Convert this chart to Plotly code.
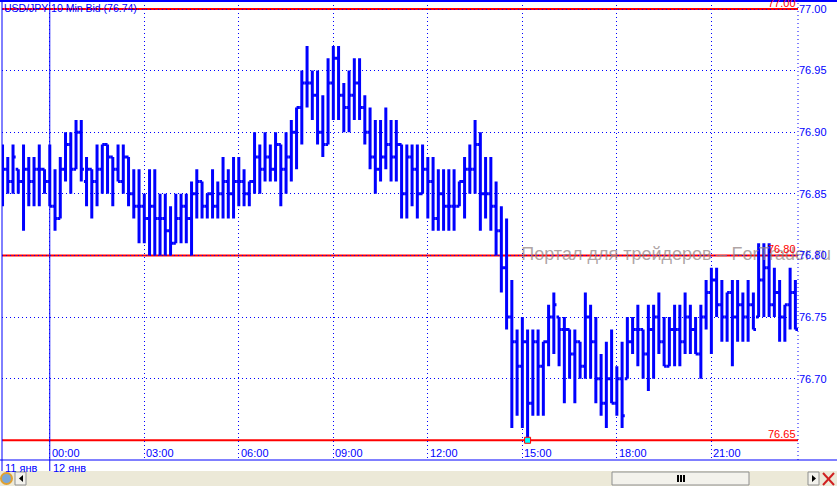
import pandas as pd
import plotly.graph_objects as go

# 10-minute USD/JPY bid bars, 11 Jan 22:30 -> 12 Jan 23:40
bar_times = pd.date_range('2012-01-11 22:30', periods=152, freq='10min')

opens = [
    76.86, 76.87, 76.86, 76.87, 76.86, 76.87, 76.86, 76.87, 76.87, 76.86,
    76.84, 76.83, 76.87, 76.89, 76.87, 76.90, 76.86, 76.87, 76.86, 76.87,
    76.89, 76.88, 76.87, 76.86, 76.88, 76.85, 76.84, 76.84, 76.83, 76.84,
    76.83, 76.83, 76.82, 76.81, 76.83, 76.84, 76.83, 76.85, 76.86, 76.84,
    76.85, 76.84, 76.85, 76.86, 76.85, 76.86, 76.86, 76.85, 76.86, 76.88,
    76.87, 76.88, 76.87, 76.89, 76.87, 76.88, 76.90, 76.92, 76.94, 76.94,
    76.93, 76.90, 76.89, 76.94, 76.96, 76.93, 76.92, 76.93, 76.94, 76.92,
    76.90, 76.88, 76.87, 76.88, 76.89, 76.88, 76.89, 76.85, 76.88, 76.87,
    76.85, 76.87, 76.86, 76.83, 76.85, 76.84, 76.84, 76.84, 76.86, 76.87,
    76.87, 76.89, 76.85, 76.85, 76.84, 76.82, 76.79, 76.75, 76.73, 76.71,
    76.73, 76.68, 76.73, 76.71, 76.73, 76.75, 76.75, 76.74, 76.74, 76.72,
    76.73, 76.71, 76.75, 76.73, 76.70, 76.68, 76.70, 76.68, 76.70, 76.70,
    76.73, 76.74, 76.74, 76.72, 76.74, 76.75, 76.73, 76.71, 76.74, 76.74,
    76.73, 76.75, 76.74, 76.72, 76.75, 76.77, 76.78, 76.76, 76.75, 76.77,
    76.75, 76.76, 76.75, 76.76, 76.75, 76.78, 76.79, 76.76, 76.77, 76.75,
    76.76, 76.77,
]
highs = [
    76.89, 76.88, 76.89, 76.87, 76.89, 76.88, 76.88, 76.89, 76.87, 76.89,
    76.87, 76.88, 76.90, 76.90, 76.91, 76.91, 76.88, 76.87, 76.89, 76.89,
    76.89, 76.88, 76.89, 76.89, 76.88, 76.87, 76.87, 76.85, 76.87, 76.87,
    76.85, 76.85, 76.84, 76.85, 76.85, 76.85, 76.86, 76.87, 76.86, 76.85,
    76.87, 76.86, 76.88, 76.87, 76.88, 76.88, 76.87, 76.86, 76.90, 76.89,
    76.90, 76.89, 76.90, 76.89, 76.90, 76.91, 76.92, 76.95, 76.97, 76.95,
    76.95, 76.93, 76.96, 76.97, 76.97, 76.94, 76.95, 76.96, 76.96, 76.93,
    76.92, 76.91, 76.91, 76.92, 76.91, 76.91, 76.89, 76.89, 76.89, 76.89,
    76.89, 76.88, 76.88, 76.87, 76.87, 76.87, 76.87, 76.86, 76.88, 76.89,
    76.91, 76.90, 76.88, 76.88, 76.86, 76.84, 76.83, 76.78, 76.74, 76.75,
    76.74, 76.74, 76.74, 76.73, 76.76, 76.77, 76.75, 76.75, 76.74, 76.74,
    76.73, 76.77, 76.76, 76.75, 76.72, 76.73, 76.74, 76.71, 76.73, 76.75,
    76.75, 76.76, 76.74, 76.76, 76.76, 76.77, 76.75, 76.75, 76.76, 76.76,
    76.77, 76.76, 76.75, 76.76, 76.78, 76.79, 76.79, 76.78, 76.77, 76.78,
    76.78, 76.77, 76.78, 76.77, 76.81, 76.81, 76.81, 76.79, 76.78, 76.76,
    76.79, 76.78,
]
lows = [
    76.84, 76.85, 76.85, 76.85, 76.82, 76.84, 76.84, 76.84, 76.85, 76.84,
    76.82, 76.83, 76.86, 76.85, 76.87, 76.86, 76.84, 76.83, 76.84, 76.85,
    76.85, 76.84, 76.86, 76.85, 76.84, 76.83, 76.81, 76.81, 76.80, 76.80,
    76.80, 76.80, 76.80, 76.81, 76.81, 76.81, 76.80, 76.83, 76.83, 76.83,
    76.83, 76.83, 76.83, 76.83, 76.83, 76.84, 76.84, 76.84, 76.85, 76.85,
    76.86, 76.86, 76.86, 76.84, 76.85, 76.86, 76.87, 76.89, 76.92, 76.91,
    76.89, 76.88, 76.89, 76.91, 76.91, 76.90, 76.90, 76.91, 76.91, 76.89,
    76.87, 76.85, 76.86, 76.87, 76.86, 76.86, 76.83, 76.83, 76.84, 76.83,
    76.85, 76.83, 76.82, 76.82, 76.82, 76.82, 76.82, 76.84, 76.83, 76.85,
    76.85, 76.82, 76.83, 76.82, 76.80, 76.77, 76.74, 76.66, 76.67, 76.66,
    76.65, 76.67, 76.67, 76.67, 76.71, 76.72, 76.71, 76.68, 76.70, 76.68,
    76.70, 76.70, 76.70, 76.68, 76.67, 76.66, 76.68, 76.67, 76.66, 76.70,
    76.72, 76.71, 76.70, 76.69, 76.70, 76.72, 76.71, 76.71, 76.71, 76.71,
    76.72, 76.72, 76.72, 76.70, 76.74, 76.72, 76.75, 76.73, 76.73, 76.71,
    76.73, 76.73, 76.73, 76.74, 76.75, 76.75, 76.75, 76.75, 76.73, 76.73,
    76.74, 76.74,
]
closes = [
    76.87, 76.86, 76.88, 76.86, 76.87, 76.86, 76.87, 76.87, 76.86, 76.84,
    76.83, 76.87, 76.89, 76.87, 76.90, 76.87, 76.87, 76.86, 76.87, 76.89,
    76.88, 76.87, 76.86, 76.88, 76.85, 76.84, 76.84, 76.83, 76.84, 76.83,
    76.83, 76.82, 76.81, 76.83, 76.84, 76.83, 76.85, 76.86, 76.84, 76.85,
    76.84, 76.85, 76.86, 76.85, 76.86, 76.86, 76.85, 76.86, 76.88, 76.87,
    76.88, 76.87, 76.89, 76.87, 76.88, 76.90, 76.92, 76.94, 76.94, 76.93,
    76.90, 76.89, 76.94, 76.96, 76.93, 76.92, 76.93, 76.94, 76.92, 76.90,
    76.88, 76.87, 76.88, 76.89, 76.88, 76.89, 76.85, 76.88, 76.87, 76.85,
    76.87, 76.86, 76.83, 76.85, 76.84, 76.84, 76.84, 76.86, 76.87, 76.87,
    76.89, 76.85, 76.85, 76.84, 76.82, 76.79, 76.75, 76.73, 76.71, 76.73,
    76.68, 76.73, 76.71, 76.73, 76.75, 76.76, 76.74, 76.74, 76.72, 76.73,
    76.71, 76.75, 76.73, 76.70, 76.68, 76.70, 76.68, 76.70, 76.67, 76.73,
    76.74, 76.74, 76.72, 76.74, 76.75, 76.73, 76.71, 76.74, 76.74, 76.73,
    76.75, 76.74, 76.72, 76.75, 76.77, 76.78, 76.76, 76.75, 76.77, 76.75,
    76.76, 76.75, 76.76, 76.74, 76.78, 76.79, 76.76, 76.77, 76.75, 76.76,
    76.77, 76.74,
]

price_ticks = [76.70, 76.75, 76.80, 76.85, 76.90, 76.95, 77.00]
time_ticks = pd.date_range('2012-01-12 00:00', periods=8, freq='3h')
time_labels = ['00:00', '03:00', '06:00', '09:00', '12:00', '15:00', '18:00', '21:00']
level_lines = [77.00, 76.80, 76.65]
day_labels = ['11 янв', '12 янв']
title_text = 'USD/JPY 10 Min Bid (76.74)'
watermark = 'Портал для трейдеров – ForTrader.ru'
low_time = pd.Timestamp('2012-01-12 15:10')
low_price = 76.65

BLUE = '#0000ff'
RED = '#ff0000'
FONT = 'Liberation Sans'
DOTS = '1px,3px'
W, H = 837, 487
ML, MR, MT, MB = 2, 39, 1, 27
PW, PH = W - ML - MR, H - MT - MB


def px_x(px):
    return (px - ML) / PW


def px_y(py):
    return (H - MB - py) / PH


step = pd.Timedelta('10min')
x_range = [bar_times[0] - step * 0.1, bar_times[0] + step * 151.5]

fig = go.Figure()

# watermark sits over the level lines but under the bars
fig.add_trace(go.Scatter(
    x=[pd.Timestamp('2012-01-12 14:58')], y=[76.80],
    mode='text', text=[watermark], textposition='middle right',
    textfont=dict(family=FONT, size=18, color='rgba(150,135,135,0.75)'),
    cliponaxis=False, hoverinfo='skip', showlegend=False
))

fig.add_trace(go.Ohlc(
    x=bar_times, open=opens, high=highs, low=lows, close=closes,
    line=dict(width=3),
    increasing=dict(line=dict(color=BLUE)),
    decreasing=dict(line=dict(color=BLUE)),
    tickwidth=0.5,
    hoverinfo='skip',
    showlegend=False
))

fig.add_trace(go.Scatter(
    x=[low_time], y=[low_price], mode='markers',
    marker=dict(symbol='square', size=6, color='#00ffff', line=dict(color=RED, width=1)),
    hoverinfo='skip', showlegend=False
))

shapes = []
# level lines
for lvl in level_lines:
    shapes.append(dict(type='line', xref='paper', yref='y', x0=0, x1=1, y0=lvl, y1=lvl,
                       line=dict(color=RED, width=2), layer='below'))
# frame lines
shapes.append(dict(type='line', xref='paper', yref='paper', x0=px_x(0), x1=px_x(W), y0=1, y1=1,
                   line=dict(color=BLUE, width=2)))
shapes.append(dict(type='line', xref='paper', yref='paper', x0=px_x(0), x1=px_x(W), y0=0, y1=0,
                   line=dict(color=BLUE, width=1)))
shapes.append(dict(type='line', xref='paper', yref='paper', x0=0, x1=0, y0=px_y(471), y1=1,
                   line=dict(color=BLUE, width=1)))
shapes.append(dict(type='line', xref='x', yref='paper', x0=time_ticks[0], x1=time_ticks[0],
                   y0=px_y(471), y1=1, line=dict(color=BLUE, width=1)))
shapes.append(dict(type='line', xref='paper', yref='paper', x0=1, x1=1, y0=0, y1=1,
                   line=dict(color=BLUE, width=1, dash=DOTS)))
# scrollbar
shapes.append(dict(type='rect', xref='paper', yref='paper', x0=px_x(0), x1=px_x(W),
                   y0=px_y(486), y1=px_y(471), fillcolor='#ece9d8', line=dict(width=0)))
shapes.append(dict(type='rect', xref='paper', yref='paper', x0=px_x(612), x1=px_x(749),
                   y0=px_y(485), y1=px_y(472), fillcolor='#f3f2ec', line=dict(color='#8e8f8f', width=1)))
for gx in (677, 680, 683):
    shapes.append(dict(type='rect', xref='paper', yref='paper', x0=px_x(gx), x1=px_x(gx + 2),
                       y0=px_y(482), y1=px_y(475), fillcolor='black', line=dict(width=0)))
for bx0, bx1 in ((15, 26), (808, 819)):
    shapes.append(dict(type='rect', xref='paper', yref='paper', x0=px_x(bx0), x1=px_x(bx1),
                       y0=px_y(485), y1=px_y(472), fillcolor='#f3f2ec', line=dict(color='#8e8f8f', width=1)))
shapes.append(dict(type='path', xref='paper', yref='paper',
                   path=f'M {px_x(23)} {px_y(475)} L {px_x(19)} {px_y(478.5)} L {px_x(23)} {px_y(482)} Z',
                   fillcolor='black', line=dict(width=0)))
shapes.append(dict(type='path', xref='paper', yref='paper',
                   path=f'M {px_x(812)} {px_y(475)} L {px_x(816)} {px_y(478.5)} L {px_x(812)} {px_y(482)} Z',
                   fillcolor='black', line=dict(width=0)))
shapes.append(dict(type='circle', xref='paper', yref='paper', x0=px_x(1), x1=px_x(12),
                   y0=px_y(484), y1=px_y(473), fillcolor='#7aa7d8', line=dict(color='#e0a030', width=2)))
for a, b in ((473, 485), (485, 473)):
    shapes.append(dict(type='line', xref='paper', yref='paper', x0=px_x(823), x1=px_x(834),
                       y0=px_y(a), y1=px_y(b), line=dict(color='#d02020', width=2)))

annotations = [
    dict(text=title_text, xref='paper', yref='paper', x=px_x(2), y=px_y(0),
         xanchor='left', yanchor='top', showarrow=False,
         font=dict(family=FONT, size=10.5, color=BLUE))
]
for lvl in level_lines:
    annotations.append(dict(text=f'{lvl:.2f}', xref='paper', yref='y', x=1, y=lvl,
                            xanchor='right', yanchor='bottom', showarrow=False, yshift=-2,
                            font=dict(family=FONT, size=11, color=RED)))
for t, lbl in zip(time_ticks, time_labels):
    annotations.append(dict(text=lbl, xref='x', yref='paper', x=t, y=px_y(459),
                            xanchor='left', yanchor='bottom', showarrow=False, yshift=-2,
                            font=dict(family=FONT, size=11, color=BLUE)))
for lbl, xp in zip(day_labels, (3, 51)):
    annotations.append(dict(text=lbl, xref='paper', yref='paper', x=px_x(xp), y=px_y(460),
                            xanchor='left', yanchor='top', showarrow=False,
                            font=dict(family=FONT, size=11, color=BLUE)))

fig.update_layout(
    width=W, height=H,
    margin=dict(l=ML, r=MR, t=MT, b=MB, autoexpand=False),
    paper_bgcolor='white', plot_bgcolor='white',
    font=dict(family=FONT, size=11, color=BLUE),
    showlegend=False,
    shapes=shapes,
    annotations=annotations,
    xaxis=dict(
        type='date', range=x_range, rangeslider=dict(visible=False), automargin=False,
        tickvals=time_ticks, showticklabels=False, ticks='',
        showgrid=True, gridcolor=BLUE, gridwidth=1, griddash=DOTS,
        showline=False, zeroline=False, fixedrange=True
    ),
    yaxis=dict(
        side='right', range=[76.634, 77.0065], automargin=False,
        tickvals=price_ticks, ticktext=[f'{p:.2f}' for p in price_ticks],
        tickfont=dict(family=FONT, size=11, color=BLUE), ticks='',
        showgrid=True, gridcolor=BLUE, gridwidth=1, griddash=DOTS,
        showline=False, zeroline=False, fixedrange=True
    ),
)

# the page's default body margin would shift the chart by 8px
fig.write_html('out.html', config={'displayModeBar': False},
               post_script="document.body.style.margin='0px';")
